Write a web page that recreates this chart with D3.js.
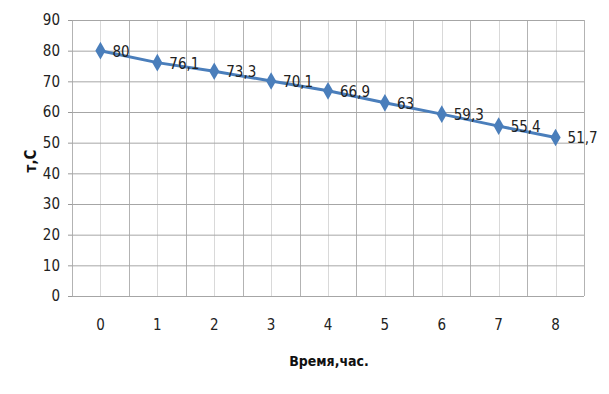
<!DOCTYPE html>
<html>
<head>
<meta charset="utf-8">
<script src="https://cdn.jsdelivr.net/npm/d3@7"></script>
<style>
  body { margin: 0; background: #fff; }
  svg { display: block; }
  text { font-family: "Liberation Sans Narrow", "DejaVu Sans Condensed", sans-serif; }
</style>
</head>
<body>
<div id="chart_holder"><svg></svg></div>
<script>
let hours = [0, 1, 2, 3, 4, 5, 6, 7, 8]
let temps = [80, 76.1, 73.3, 70.1, 66.9, 63, 59.3, 55.4, 51.7]
let labels = ["80", "76,1", "73,3", "70,1", "66,9", "63", "59,3", "55,4", "51,7"]
let yTicks = [0, 10, 20, 30, 40, 50, 60, 70, 80, 90]

let width = 609, height = 394
let margin = {top: 20, right: 25, bottom: 98, left: 72}
let innerWidth = width - margin.left - margin.right
let innerHeight = height - margin.top - margin.bottom

let svg = d3.select('#chart_holder svg')
    .attr('width', width)
    .attr('height', height)

let g = svg.append('g').attr('transform', `translate(${margin.left},${margin.top})`)

let x = d3.scaleBand().domain(hours).range([0, innerWidth])
let y = d3.scaleLinear().domain([0, 90]).range([innerHeight, 0])
let cx = d => x(d) + x.bandwidth() / 2

// light gridlines through category centres
g.selectAll('.minor')
    .data(hours)
    .join('line')
        .attr('x1', d => Math.round(cx(d)) + 0.5)
        .attr('x2', d => Math.round(cx(d)) + 0.5)
        .attr('y1', 0)
        .attr('y2', innerHeight)
        .attr('stroke', '#d9d9d9')

// category boundaries
g.selectAll('.major')
    .data(hours.concat([null]))
    .join('line')
        .attr('x1', (d, i) => Math.round(i * x.bandwidth()) + 0.5)
        .attr('x2', (d, i) => Math.round(i * x.bandwidth()) + 0.5)
        .attr('y1', 0)
        .attr('y2', innerHeight)
        .attr('stroke', '#b3b3b3')

// y axis with gridlines
let yAxis = g.append('g')
    .call(d3.axisLeft(y).tickValues(yTicks).tickSize(4).tickPadding(8))
yAxis.select('.domain').remove()
yAxis.selectAll('.tick line').attr('stroke', '#9a9a9a')
yAxis.selectAll('.tick').append('line')
    .attr('x2', innerWidth)
    .attr('stroke', '#a6a6a6')
yAxis.selectAll('text')
    .attr('font-size', 15)
    .attr('fill', '#222')
    .attr('font-family', '"Liberation Sans Narrow", sans-serif')

// x axis labels
let xAxis = g.append('g')
    .attr('transform', `translate(0,${innerHeight})`)
    .call(d3.axisBottom(x).tickSize(0).tickPadding(23))
xAxis.select('.domain').remove()
xAxis.selectAll('text')
    .attr('font-size', 15)
    .attr('fill', '#222')
    .attr('font-family', '"Liberation Sans Narrow", sans-serif')

// series
let line = d3.line()
    .x((d, i) => cx(hours[i]))
    .y(d => y(d))

g.append('path')
    .datum(temps)
    .attr('d', line)
    .attr('fill', 'none')
    .attr('stroke', '#4a7ebb')
    .attr('stroke-width', 3)

g.selectAll('.pt')
    .data(temps)
    .join('path')
        .attr('d', d3.symbol(d3.symbolDiamond, 90))
        .attr('transform', (d, i) => `translate(${cx(hours[i])},${y(d)})`)
        .attr('fill', '#4a7ebb')

g.selectAll('.lbl')
    .data(temps)
    .join('text')
        .attr('x', (d, i) => cx(hours[i]) + 12)
        .attr('y', d => y(d) + 6)
        .text((d, i) => labels[i])
        .attr('font-size', 15)
        .attr('fill', '#222')

// axis titles
svg.append('text')
    .attr('transform', `translate(36,161) rotate(-90)`)
    .attr('text-anchor', 'middle')
    .attr('font-weight', 'bold')
    .attr('font-size', 15)
    .attr('fill', '#111')
    .text('т,С')

svg.append('text')
    .attr('x', 329)
    .attr('y', 366)
    .attr('text-anchor', 'middle')
    .attr('font-weight', 'bold')
    .attr('font-size', 14)
    .attr('fill', '#111')
    .text('Время,час.')
</script>
</body>
</html>
